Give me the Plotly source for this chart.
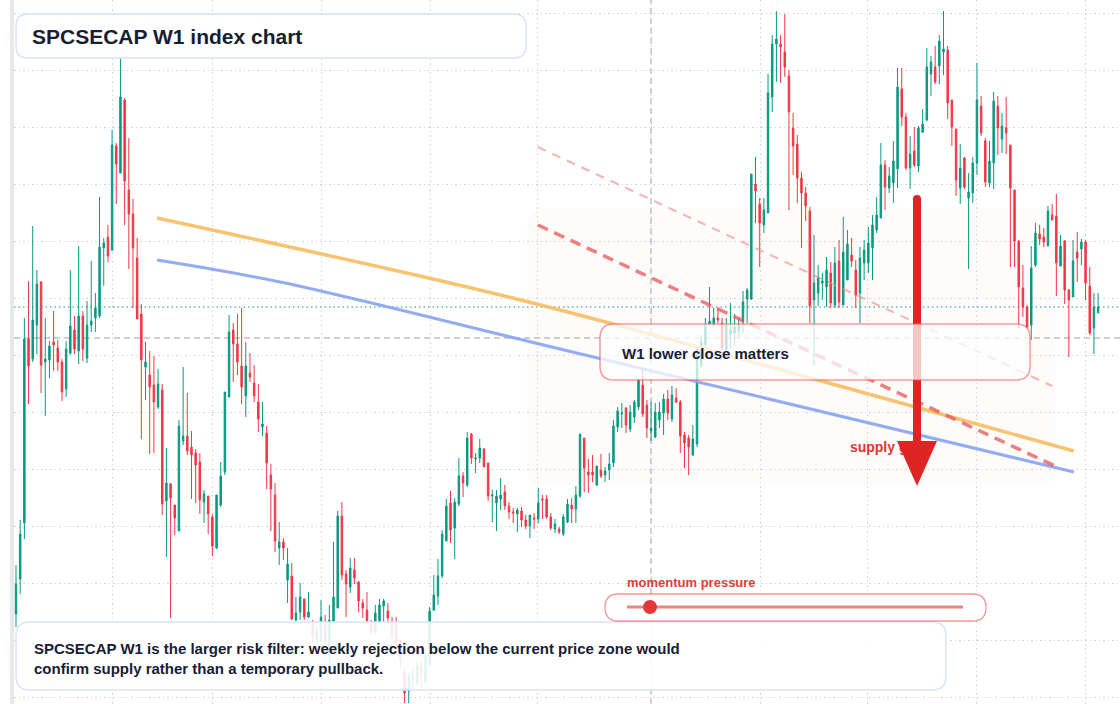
import plotly.graph_objects as go

# ---------------- data (weekly candles, index points) ----------------
opens = [386, 421, 477, 661, 641, 675, 718, 638, 640, 658,
         652, 638, 611, 647, 670, 649, 684, 642, 675, 682,
         684, 752, 763, 750, 854, 827, 900, 810, 786, 742,
         686, 633, 625, 615, 593, 610, 499, 516, 495, 469,
         559, 564, 553, 547, 538, 498, 504, 483, 452, 495,
         528, 603, 670, 656, 634, 604, 627, 617, 598, 573,
         567, 525, 505, 452, 458, 420, 424, 380, 388, 401,
         383, 375, 362, 358, 375, 345, 378, 392, 484, 426,
         413, 430, 418, 397, 390, 375, 367, 378, 394, 389,
         375, 375, 360, 328, 309, 320, 317, 333, 318, 335,
         390, 404, 424, 459, 497, 472, 496, 524, 515, 566,
         541, 542, 551, 537, 504, 497, 501, 508, 494, 488,
         486, 489, 480, 474, 482, 481, 501, 501, 483, 471,
         471, 466, 478, 495, 491, 504, 562, 528, 528, 515,
         530, 525, 530, 537, 573, 586, 592, 571, 583, 593,
         615, 595, 569, 563, 580, 587, 601, 581, 602, 598,
         565, 562, 545, 556, 634, 655, 676, 676, 682, 677,
         650, 665, 667, 669, 678, 701, 701, 816, 796, 775,
         787, 903, 956, 956, 948, 924, 872, 856, 822, 807,
         789, 700, 707, 717, 713, 727, 695, 739, 695, 720,
         745, 730, 707, 737, 737, 752, 770, 782, 835, 812,
         817, 831, 911, 883, 832, 849, 834, 868, 880, 926,
         933, 934, 948, 950, 900, 871, 812, 842, 802, 807,
         837, 894, 859, 817, 837, 894, 861, 872, 855, 810,
         759, 712, 693, 675, 735, 766, 763, 754, 785, 784,
         734, 759, 710, 703, 748, 751, 758, 714, 672, 687]

highs = [435, 480, 682, 719, 774, 730, 719, 682, 659, 689,
         660, 641, 659, 730, 684, 754, 689, 699, 739, 707,
         803, 762, 775, 870, 857, 942, 902, 862, 801, 762,
         696, 658, 649, 644, 631, 616, 552, 517, 495, 580,
         633, 607, 569, 551, 547, 510, 504, 486, 505, 538,
         608, 685, 677, 686, 692, 658, 647, 635, 616, 598,
         574, 536, 517, 478, 462, 452, 437, 403, 417, 401,
         408, 380, 373, 400, 385, 395, 458, 489, 498, 430,
         442, 442, 419, 401, 408, 380, 395, 401, 401, 397,
         383, 383, 360, 332, 328, 332, 340, 342, 347, 393,
         425, 441, 470, 501, 509, 502, 542, 528, 568, 567,
         547, 561, 552, 537, 510, 510, 522, 515, 498, 492,
         492, 493, 485, 485, 487, 512, 505, 505, 487, 481,
         473, 486, 501, 502, 514, 566, 562, 541, 545, 534,
         546, 533, 547, 580, 593, 597, 593, 595, 600, 622,
         630, 600, 598, 597, 598, 606, 610, 614, 612, 600,
         568, 565, 575, 655, 665, 682, 713, 692, 692, 682,
         682, 697, 686, 682, 709, 712, 826, 843, 802, 802,
         926, 965, 989, 965, 986, 930, 887, 865, 828, 813,
         793, 765, 735, 727, 743, 738, 753, 760, 783, 770,
         762, 740, 753, 760, 773, 785, 803, 857, 840, 833,
         859, 932, 932, 887, 864, 873, 874, 891, 952, 944,
         954, 965, 989, 954, 900, 871, 856, 843, 827, 843,
         937, 904, 862, 859, 908, 904, 887, 903, 855, 810,
         760, 735, 695, 754, 777, 775, 772, 794, 796, 806,
         765, 760, 711, 760, 768, 761, 760, 733, 707, 707]

lows = [373, 406, 461, 596, 638, 646, 607, 584, 622, 629,
        629, 599, 603, 645, 646, 636, 639, 637, 668, 668,
        682, 714, 738, 749, 796, 827, 775, 731, 692, 681,
        561, 600, 546, 547, 591, 485, 443, 382, 465, 469,
        555, 545, 501, 497, 486, 477, 466, 444, 451, 493,
        525, 603, 618, 625, 596, 583, 618, 598, 568, 564,
        511, 469, 448, 435, 440, 397, 380, 379, 380, 380,
        382, 357, 355, 358, 350, 335, 378, 392, 420, 383,
        407, 416, 388, 382, 378, 365, 367, 378, 378, 375,
        360, 345, 333, 297, 297, 312, 315, 312, 317, 335,
        389, 395, 422, 459, 457, 441, 494, 503, 513, 536,
        527, 537, 533, 499, 478, 469, 490, 490, 481, 477,
        468, 473, 471, 462, 471, 477, 481, 481, 470, 467,
        466, 464, 477, 477, 477, 502, 508, 507, 518, 514,
        522, 518, 520, 533, 568, 572, 567, 568, 577, 590,
        583, 562, 559, 562, 572, 565, 580, 578, 597, 547,
        532, 525, 544, 553, 632, 650, 676, 674, 677, 650,
        648, 652, 655, 662, 667, 677, 700, 777, 733, 767,
        787, 888, 918, 917, 923, 790, 825, 797, 752, 779,
        677, 635, 694, 700, 693, 692, 692, 692, 695, 720,
        733, 692, 677, 720, 727, 720, 767, 782, 790, 807,
        797, 812, 874, 830, 811, 833, 828, 867, 879, 904,
        916, 916, 925, 881, 854, 804, 796, 811, 731, 797,
        825, 864, 813, 813, 811, 845, 847, 846, 733, 733,
        672, 683, 672, 660, 733, 755, 753, 754, 780, 704,
        734, 696, 643, 703, 718, 735, 700, 665, 646, 687]

closes = [416, 466, 661, 634, 680, 716, 635, 641, 654, 655,
          638, 608, 651, 674, 651, 684, 651, 675, 679, 692,
          753, 757, 744, 855, 836, 903, 819, 786, 752, 681,
          640, 638, 613, 598, 616, 496, 517, 502, 482, 574,
          564, 549, 545, 535, 500, 506, 486, 454, 505, 524,
          608, 668, 656, 638, 613, 634, 623, 604, 581, 576,
          537, 511, 459, 458, 452, 436, 381, 387, 403, 383,
          388, 365, 368, 383, 358, 380, 403, 484, 425, 416,
          432, 422, 399, 392, 379, 368, 387, 395, 399, 382,
          365, 355, 342, 307, 323, 323, 335, 327, 343, 389,
          405, 424, 466, 494, 470, 498, 524, 517, 562, 542,
          542, 552, 533, 504, 505, 504, 505, 494, 488, 487,
          490, 480, 474, 485, 481, 497, 500, 483, 472, 476,
          468, 483, 496, 491, 505, 566, 532, 525, 525, 534,
          524, 529, 536, 574, 589, 587, 575, 588, 598, 620,
          586, 572, 572, 588, 588, 601, 587, 605, 598, 564,
          557, 553, 561, 652, 658, 675, 679, 682, 680, 652,
          675, 670, 673, 676, 698, 710, 826, 809, 777, 790,
          907, 956, 961, 953, 933, 888, 854, 822, 807, 794,
          694, 717, 722, 719, 730, 697, 737, 698, 748, 756,
          739, 705, 742, 750, 757, 775, 785, 835, 813, 824,
          839, 913, 883, 832, 846, 835, 872, 876, 933, 938,
          918, 959, 951, 897, 873, 820, 832, 813, 808, 837,
          900, 867, 818, 839, 899, 872, 874, 867, 812, 759,
          713, 693, 673, 732, 767, 761, 758, 789, 780, 737,
          754, 710, 700, 739, 742, 758, 717, 667, 693, 693]

weeks = list(range(len(closes)))

# overlay studies (week index, index level)
slow_avg_x = [33.75, 100.8, 130.2, 253.2]
slow_avg_y = [782, 720, 690, 549]
fast_avg_x = [33.75, 63.2, 130.2, 253.2]
fast_avg_y = [740, 718, 651, 528]
upper_channel_x = [124.9, 248.0]
upper_channel_y = [853, 614]
lower_channel_x = [124.9, 248.7]
lower_channel_y = [775, 534]
grid_weeks = [23.2, 47.1, 73.2, 99.3, 124.9, 152.0, 178.3, 203.9, 230.0, 256.1]
last_close = closes[-1]
cross_level = 662

UP, DOWN = "#089981", "#F23645"
FONT = "Liberation Sans, Arial, Helvetica, sans-serif"
INK = "#172033"
GRID = "#d4d4d4"

# ---------------- layout helpers (pixel -> paper) ----------------
W, H, LM = 1120, 704, 14
PW = W - LM


def fx(px):
    return (px - LM) / PW


def fy(py):
    return 1 - py / H


def rrect(px0, py0, px1, py1, r):
    X0, X1, Y0, Y1 = fx(px0), fx(px1), fy(py0), fy(py1)
    rx, ry = r / PW, r / H
    return (f"M{X0+rx},{Y0} L{X1-rx},{Y0} Q{X1},{Y0} {X1},{Y0-ry} "
            f"L{X1},{Y1+ry} Q{X1},{Y1} {X1-rx},{Y1} L{X0+rx},{Y1} "
            f"Q{X0},{Y1} {X0},{Y1+ry} L{X0},{Y0-ry} Q{X0},{Y0} {X0+rx},{Y0} Z")


fig = go.Figure()

fig.add_trace(go.Candlestick(
    x=weeks, open=opens, high=highs, low=lows, close=closes,
    increasing=dict(line=dict(color=UP, width=1), fillcolor=UP),
    decreasing=dict(line=dict(color=DOWN, width=1), fillcolor=DOWN),
    whiskerwidth=0, hoverinfo="skip", showlegend=False))

fig.add_trace(go.Scatter(x=slow_avg_x, y=slow_avg_y, mode="lines",
                         line=dict(color="rgba(247,188,96,0.9)", width=3.5, shape="spline"),
                         hoverinfo="skip"))
fig.add_trace(go.Scatter(x=fast_avg_x, y=fast_avg_y, mode="lines",
                         line=dict(color="rgba(140,166,242,0.95)", width=3, shape="spline"),
                         hoverinfo="skip"))
fig.add_trace(go.Scatter(x=upper_channel_x, y=upper_channel_y, mode="lines",
                         line=dict(color="rgba(240,140,140,0.65)", width=2, dash="9px,7px"),
                         hoverinfo="skip"))
fig.add_trace(go.Scatter(x=lower_channel_x, y=lower_channel_y, mode="lines",
                         line=dict(color="rgba(230,85,85,0.75)", width=3.5, dash="11px,7px"),
                         hoverinfo="skip"))
fig.add_trace(go.Scatter(x=[199.6], y=[552], mode="text", text=["<b>supply gate</b>"],
                         textposition="middle right",
                         textfont=dict(family=FONT, size=14, color="#e03535"),
                         hoverinfo="skip"))

shapes = []
# left axis strip
shapes.append(dict(type="rect", xref="paper", yref="paper", x0=fx(10), x1=fx(14), y0=0, y1=1,
                   fillcolor="#e8e8e8", line=dict(width=0), layer="above"))
# reaction zone
shapes.append(dict(type="path", xref="paper", yref="paper", path=rrect(527, 208, 1055, 485, 14),
                   fillcolor="rgba(248,225,205,0.10)", line=dict(width=0), layer="below"))
# crosshair and last price
shapes.append(dict(type="line", xref="paper", yref="paper", x0=fx(651), x1=fx(651), y0=0, y1=1,
                   line=dict(color="#a0a0a0", width=1, dash="6px,4px"), layer="between"))
shapes.append(dict(type="line", xref="paper", yref="y", x0=0, x1=1, y0=cross_level, y1=cross_level,
                   line=dict(color="#a0a0a0", width=1, dash="6px,4px"), layer="between"))
shapes.append(dict(type="line", xref="paper", yref="y", x0=0, x1=1, y0=last_close, y1=last_close,
                   line=dict(color=UP, width=1, dash="1.5px,3px"), layer="between"))
# big arrow
shapes.append(dict(type="line", xref="paper", yref="paper", x0=fx(917), x1=fx(917), y0=fy(199), y1=fy(446),
                   line=dict(color="#dc2626", width=8), layer="above"))
shapes.append(dict(type="circle", xref="paper", yref="paper", xsizemode="pixel", ysizemode="pixel",
                   xanchor=fx(917), yanchor=fy(199), x0=-4, x1=4, y0=-4, y1=4,
                   fillcolor="#dc2626", line=dict(width=0), layer="above"))
shapes.append(dict(type="path", xref="paper", yref="paper",
                   path=f"M{fx(897)},{fy(441)} L{fx(937)},{fy(441)} L{fx(917)},{fy(486)} Z",
                   fillcolor="#dc2626", line=dict(width=0), layer="above"))
# boxes
shapes.append(dict(type="path", xref="paper", yref="paper", path=rrect(600, 324, 1030, 380, 14),
                   fillcolor="rgba(255,255,255,0.74)", line=dict(color="rgba(236,95,95,0.62)", width=1.5),
                   layer="above"))
shapes.append(dict(type="path", xref="paper", yref="paper", path=rrect(16, 14, 526, 58, 12),
                   fillcolor="rgba(255,255,255,0.92)", line=dict(color="#d6e4fb", width=1.5),
                   layer="above"))
shapes.append(dict(type="path", xref="paper", yref="paper", path=rrect(16, 622, 946, 690, 14),
                   fillcolor="rgba(255,255,255,0.88)", line=dict(color="#d6e4fb", width=1.5),
                   layer="above"))
shapes.append(dict(type="path", xref="paper", yref="paper", path=rrect(605, 594, 986, 621, 13.5),
                   fillcolor="rgba(255,255,255,0.92)", line=dict(color="rgba(236,95,95,0.65)", width=1.3),
                   layer="above"))
shapes.append(dict(type="line", xref="paper", yref="paper", x0=fx(627), x1=fx(963), y0=fy(607), y1=fy(607),
                   line=dict(color="rgba(232,92,92,0.75)", width=3), layer="above"))
shapes.append(dict(type="circle", xref="paper", yref="paper", xsizemode="pixel", ysizemode="pixel",
                   xanchor=fx(650), yanchor=fy(607), x0=-7, x1=7, y0=-7, y1=7,
                   fillcolor="#e03a3a", line=dict(width=0), layer="above"))

annotations = [
    dict(text="<b>SPCSECAP W1 index chart</b>", x=fx(30), y=fy(36), xref="paper", yref="paper",
         xanchor="left", yanchor="middle", showarrow=False,
         font=dict(family=FONT, size=21, color=INK)),
    dict(text="<b>W1 lower close matters</b>", x=fx(620), y=fy(353), xref="paper", yref="paper",
         xanchor="left", yanchor="middle", showarrow=False,
         font=dict(family=FONT, size=15, color=INK)),
    dict(text="<b>momentum pressure</b>", x=fx(625), y=fy(582), xref="paper", yref="paper",
         xanchor="left", yanchor="middle", showarrow=False,
         font=dict(family=FONT, size=13, color="#e03a3a")),
    dict(text="<b>SPCSECAP W1 is the larger risk filter: weekly rejection below the current price zone would"
              "<br>confirm supply rather than a temporary pullback.</b>",
         x=fx(32), y=fy(658), xref="paper", yref="paper", align="left",
         xanchor="left", yanchor="middle", showarrow=False,
         font=dict(family=FONT, size=15, color=INK)),
]

fig.update_layout(
    width=W, height=H, margin=dict(l=LM, r=0, t=0, b=0),
    paper_bgcolor="white", plot_bgcolor="white", showlegend=False,
    boxgap=0.5,
    xaxis=dict(range=[-0.479, 264.24], tickvals=grid_weeks, showticklabels=False,
               showgrid=True, griddash="1.5px,3px", gridcolor=GRID, gridwidth=1,
               zeroline=False, ticks="", rangeslider=dict(visible=False), fixedrange=True),
    yaxis=dict(range=[296, 1000], tick0=303, dtick=57, showticklabels=False,
               showgrid=True, griddash="1.5px,3px", gridcolor=GRID, gridwidth=1,
               zeroline=False, ticks="", fixedrange=True),
    shapes=shapes, annotations=annotations,
)

fig.write_html("out.html", config={"displayModeBar": False})
